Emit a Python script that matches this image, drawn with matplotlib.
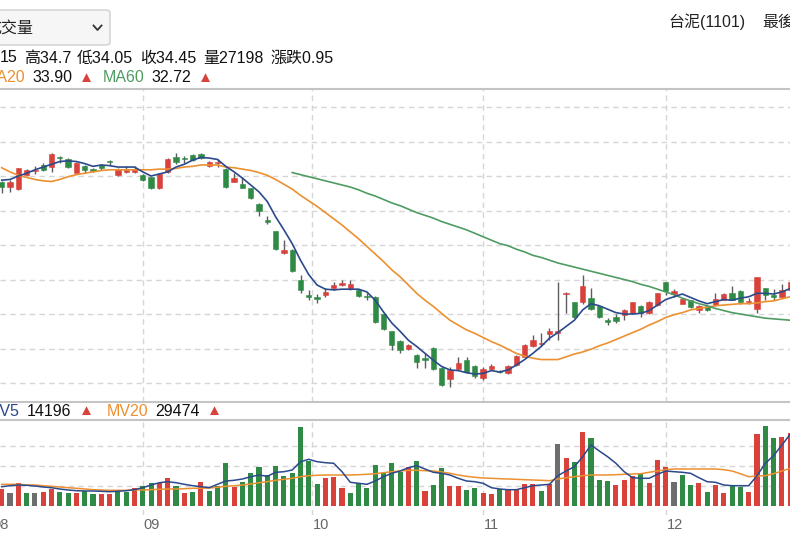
import numpy as np
import matplotlib.pyplot as plt
from matplotlib.patches import FancyBboxPatch
from matplotlib.lines import Line2D

plt.rcParams['font.family'] = ['Liberation Sans', 'Noto Sans CJK TC', 'DejaVu Sans']

# daily candles (台泥 1101)
opens = [34.41, 34.34, 34.31, 34.51, 34.57, 34.66, 34.63, 34.78, 34.75, 34.55,
         34.64, 34.60, 34.66, 34.72, 34.51, 34.56, 34.56, 34.52, 34.48, 34.33,
         34.56, 34.78, 34.76, 34.80, 34.82, 34.64, 34.69, 34.60, 34.42, 34.39,
         34.32, 34.10, 33.86, 33.70, 33.39, 33.43, 33.00, 32.78, 32.74, 32.78,
         32.88, 32.92, 32.87, 32.85, 32.76, 32.75, 32.50, 32.25, 32.11, 31.99,
         31.91, 31.86, 32.01, 31.72, 31.56, 31.71, 31.83, 31.75, 31.58, 31.70,
         31.67, 31.64, 31.76, 31.88, 32.04, 32.06, 32.21, 32.23, 32.79, 32.67,
         32.67, 32.73, 32.61, 32.42, 32.46, 32.49, 32.51, 32.61, 32.51, 32.63,
         32.96, 32.79, 32.65, 32.70, 32.56, 32.61, 32.63, 32.71, 32.80, 32.84,
         32.67, 32.57, 32.87, 32.77, 32.75, 32.85]
highs = [34.43, 34.44, 34.62, 34.60, 34.64, 34.69, 34.83, 34.79, 34.76, 34.70,
         34.66, 34.61, 34.67, 34.73, 34.62, 34.64, 34.64, 34.53, 34.49, 34.54,
         34.76, 34.83, 34.79, 34.82, 34.83, 34.72, 34.74, 34.61, 34.54, 34.48,
         34.33, 34.11, 33.92, 33.71, 33.57, 33.44, 33.07, 32.85, 32.79, 32.87,
         32.96, 32.99, 32.99, 32.86, 32.80, 32.76, 32.51, 32.26, 32.12, 32.07,
         31.92, 31.93, 32.02, 31.73, 31.73, 31.88, 31.88, 31.76, 31.73, 31.78,
         31.69, 31.76, 31.91, 32.07, 32.20, 32.23, 32.30, 32.97, 32.82, 32.68,
         33.07, 32.87, 32.62, 32.44, 32.50, 32.58, 32.68, 32.63, 32.69, 32.81,
         32.97, 32.86, 32.73, 32.71, 32.63, 32.62, 32.80, 32.80, 32.90, 32.85,
         32.73, 33.04, 32.88, 32.86, 32.94, 32.98]
lows = [34.25, 34.27, 34.30, 34.50, 34.53, 34.57, 34.56, 34.69, 34.62, 34.54,
        34.54, 34.56, 34.59, 34.66, 34.50, 34.54, 34.55, 34.43, 34.31, 34.31,
        34.55, 34.67, 34.69, 34.72, 34.75, 34.63, 34.63, 34.33, 34.41, 34.32,
        34.17, 33.92, 33.81, 33.43, 33.37, 33.11, 32.81, 32.70, 32.66, 32.75,
        32.85, 32.90, 32.85, 32.74, 32.70, 32.37, 32.27, 31.98, 31.93, 31.98,
        31.72, 31.72, 31.69, 31.45, 31.44, 31.69, 31.64, 31.58, 31.54, 31.69,
        31.64, 31.63, 31.74, 31.87, 32.02, 32.03, 32.13, 32.13, 32.51, 32.44,
        32.65, 32.56, 32.44, 32.34, 32.37, 32.41, 32.50, 32.46, 32.50, 32.61,
        32.78, 32.74, 32.64, 32.59, 32.52, 32.55, 32.62, 32.70, 32.70, 32.65,
        32.64, 32.51, 32.70, 32.70, 32.73, 32.83]
closes = [34.34, 34.41, 34.61, 34.59, 34.58, 34.59, 34.82, 34.76, 34.63, 34.69,
          34.59, 34.57, 34.62, 34.71, 34.60, 34.59, 34.60, 34.44, 34.33, 34.53,
          34.75, 34.71, 34.74, 34.73, 34.76, 34.70, 34.70, 34.34, 34.47, 34.33,
          34.18, 33.99, 33.83, 33.44, 33.43, 33.12, 32.85, 32.75, 32.72, 32.82,
          32.92, 32.95, 32.93, 32.76, 32.75, 32.39, 32.29, 32.05, 31.98, 32.05,
          31.80, 31.84, 31.70, 31.47, 31.69, 31.79, 31.66, 31.60, 31.71, 31.75,
          31.66, 31.75, 31.89, 32.05, 32.13, 32.07, 32.26, 32.26, 32.81, 32.45,
          32.90, 32.58, 32.45, 32.38, 32.40, 32.56, 32.67, 32.51, 32.68, 32.80,
          32.84, 32.84, 32.72, 32.60, 32.62, 32.56, 32.72, 32.79, 32.71, 32.67,
          32.69, 33.03, 32.78, 32.75, 32.85, 32.96]

ma5 = [34.44, 34.45, 34.50, 34.54, 34.59, 34.63, 34.67, 34.71, 34.72, 34.71,
       34.68, 34.64, 34.66, 34.65, 34.63, 34.63, 34.63, 34.56, 34.50, 34.53,
       34.56, 34.63, 34.67, 34.73, 34.77, 34.76, 34.74, 34.64, 34.56, 34.47,
       34.37, 34.27, 34.13, 33.91, 33.72, 33.52, 33.28, 33.07, 32.92, 32.86,
       32.85, 32.86, 32.86, 32.86, 32.82, 32.70, 32.53, 32.37, 32.25, 32.12,
       32.03, 31.93, 31.83, 31.74, 31.69, 31.68, 31.65, 31.63, 31.64, 31.68,
       31.66, 31.69, 31.76, 31.84, 31.93, 32.03, 32.15, 32.23, 32.32, 32.41,
       32.56, 32.65, 32.62, 32.57, 32.52, 32.50, 32.50, 32.51, 32.55, 32.63,
       32.71, 32.75, 32.79, 32.74, 32.69, 32.65, 32.68, 32.71, 32.70, 32.73,
       32.75, 32.80, 32.80, 32.79, 32.82, 32.87]
ma20 = [34.62, 34.56, 34.51, 34.48, 34.45, 34.43, 34.42, 34.45, 34.49, 34.52,
        34.54, 34.56, 34.58, 34.59, 34.59, 34.59, 34.59, 34.59, 34.59, 34.60,
        34.60, 34.61, 34.63, 34.64, 34.66, 34.66, 34.66, 34.63, 34.62, 34.60,
        34.58, 34.55, 34.51, 34.45, 34.38, 34.31, 34.22, 34.14, 34.06, 33.97,
        33.88, 33.79, 33.69, 33.59, 33.48, 33.37, 33.26, 33.14, 33.04, 32.92,
        32.80, 32.70, 32.61, 32.51, 32.41, 32.34, 32.27, 32.22, 32.16, 32.10,
        32.05, 31.99, 31.93, 31.89, 31.86, 31.84, 31.84, 31.84, 31.88, 31.92,
        31.95, 31.99, 32.04, 32.08, 32.13, 32.18, 32.23, 32.28, 32.34, 32.39,
        32.45, 32.49, 32.52, 32.56, 32.58, 32.60, 32.62, 32.63, 32.64, 32.65,
        32.65, 32.66, 32.68, 32.69, 32.72, 32.75]
ma60 = [None] * 35 + [
        34.55, 34.52, 34.49, 34.46, 34.43, 34.40, 34.37, 34.34, 34.30, 34.25,
        34.21, 34.16, 34.11, 34.07, 34.02, 33.97, 33.93, 33.89, 33.84, 33.80,
        33.76, 33.72, 33.67, 33.62, 33.57, 33.52, 33.49, 33.44, 33.40, 33.35,
        33.32, 33.28, 33.24, 33.21, 33.18, 33.15, 33.12, 33.09, 33.06, 33.03,
        33.00, 32.97, 32.93, 32.90, 32.86, 32.82, 32.78, 32.73, 32.69, 32.65,
        32.62, 32.58, 32.55, 32.52, 32.50, 32.48, 32.46, 32.44, 32.43, 32.42,
        32.41]

# volume (張) and direction vs previous close: 1 up, -1 down, 0 flat
volumes = [16500, 12500, 22200, 12200, 12200, 13800, 16500, 13800, 12200, 12200,
           14500, 11300, 11300, 11300, 14500, 13500, 18000, 19500, 23000, 22200,
           27200, 19800, 12200, 13800, 23200, 14800, 19800, 42200, 18800, 23200,
           32200, 38500, 30500, 39500, 29500, 32200, 78800, 44300, 21200, 27200,
           28500, 17200, 12200, 23000, 17200, 40500, 32500, 42200, 33800, 38300,
           44200, 15000, 20800, 37200, 19800, 19800, 15800, 18000, 12500, 11300,
           16200, 15800, 15800, 22000, 22000, 14700, 21300, 61800, 47200, 43500,
           73200, 68000, 25800, 24700, 20800, 25800, 29500, 31300, 22200, 45500,
           38500, 23800, 30500, 20500, 22200, 13800, 20500, 12200, 20500, 18800,
           13800, 72000, 79200, 67200, 68500, 73000]
vol_dir = [1, 0, 1, -1, 0, 1, 1, -1, -1, 1, -1, -1, 1, 1, -1, -1, 1, -1, -1, 1,
           1, -1, 1, -1, 1, -1, -1, -1, 1, -1, -1, -1, -1, -1, -1, -1, -1, -1, -1, 1,
           1, 1, -1, -1, -1, -1, -1, -1, -1, 1, -1, 1, -1, -1, 1, 1, -1, -1, 1, 1,
           -1, 1, 1, 1, 1, -1, 1, 0, 1, -1, 1, -1, -1, -1, 1, 1, 1, -1, 1, 1,
           1, 0, -1, -1, 1, -1, 1, 1, -1, -1, 1, 1, -1, -1, 1, 1]
mv5 = [18800, 19800, 20500, 20200, 19500, 18500, 17800, 16500, 15500, 14800,
       14500, 14500, 14200, 13800, 14200, 14800, 15800, 17800, 20500, 22800,
       23800, 22800, 21200, 19800, 18800, 17800, 21200, 24500, 25200, 26500,
       28800, 30500, 29200, 33200, 33800, 35500, 43800, 46200, 43800, 42800,
       42200, 33800, 23200, 22200, 21200, 24500, 28800, 32200, 34500, 37800,
       39800, 36500, 33200, 32200, 30500, 27200, 24500, 23800, 22200, 17800,
       16500, 15800, 15800, 17800, 19800, 20500, 21200, 29800, 34500, 38800,
       48800, 60500, 54500, 48800, 42200, 33800, 27800, 27200, 27200, 31200,
       34500, 33800, 33200, 32200, 27800, 23800, 23200, 20500, 19800, 19800,
       19800, 29800, 42200, 49800, 60500, 71200]
mv20 = [21200, 21200, 21200, 20500, 20500, 19800, 19200, 18500, 17800, 17200,
        16500, 15800, 15500, 15200, 15200, 15200, 15500, 15500, 15800, 16200,
        16500, 16500, 16800, 17200, 17200, 17500, 18200, 19200, 19800, 20500,
        21500, 22800, 23800, 25200, 26200, 27200, 28800, 29800, 30200, 30500,
        30500, 30500, 30500, 30800, 31200, 31800, 32800, 33800, 34500, 35200,
        35200, 34800, 34500, 33500, 32200, 30500, 29200, 28200, 27500, 27200,
        26800, 26500, 26200, 25800, 25500, 25200, 24800, 26500, 27800, 28800,
        29800, 30500, 30500, 30500, 30800, 31200, 31500, 31800, 33200, 34500,
        35800, 36500, 36500, 36500, 36500, 36500, 36500, 35800, 34500, 31800,
        28800, 29500, 29800, 31800, 34500, 37200]

# month boundaries (candle index) and labels
month_pos = [-1.2, 17, 37.4, 58, 80]
month_labels = ['08', '09', '10', '11', '12']

RED = '#d9413b'
GREEN = '#2f8a45'
GRAY = '#6e6e6e'
C_MA5 = '#2b4a8b'
C_MA20 = '#ec9030'
C_MA60 = '#4f9c63'
GRID = '#d6d6d6'
EDGE = '#c4c4c4'

opens = np.array(opens); closes = np.array(closes)
highs = np.array(highs); lows = np.array(lows)
ma60 = np.array([np.nan if v is None else v for v in ma60])
x = np.arange(len(closes))

W, H = 790, 550
fig = plt.figure(figsize=(W / 100, H / 100), dpi=100)


def rect(x0, y0, x1, y1):
    return [x0 / W, 1 - y1 / H, (x1 - x0) / W, (y1 - y0) / H]


def ftext(px, py, s, **kw):
    fig.text(px / W, 1 - py / H, s, va='center', **kw)


ax = fig.add_axes(rect(0, 89, 790, 402))
axv = fig.add_axes(rect(0, 420, 790, 515))

for a in (ax, axv):
    a.set_xlim(-0.205, 94.976)
    a.tick_params(left=False, labelleft=False, bottom=False, labelbottom=False)
    for s in ('left', 'right', 'bottom'):
        a.spines[s].set_visible(False)
    a.spines['top'].set_color(EDGE)
    a.spines['top'].set_linewidth(1.5)
    for m in month_pos:
        a.axvline(m, color=GRID, lw=1, ls=(0, (4, 3)), zorder=0)
ax.spines['bottom'].set_visible(True)
ax.spines['bottom'].set_color(EDGE)
ax.spines['bottom'].set_linewidth(1.5)

# price panel
ax.set_ylim(31.225, 35.761)
ax.set_yticks(np.arange(31.5, 35.51, 0.5))
ax.grid(axis='y', color=GRID, lw=1, ls=(0, (4, 3)), zorder=0)
body_col = np.where(closes > opens, RED, np.where(closes < opens, GREEN, GRAY))
ax.vlines(x, lows, highs, color='#5c5c5c', lw=1, zorder=2)
ax.bar(x, np.maximum(np.abs(closes - opens), 0.014), bottom=np.minimum(opens, closes),
       width=0.64, color=body_col, edgecolor=body_col, lw=0.4, zorder=3)
ax.plot(x, ma20, color=C_MA20, lw=1.2, zorder=4)
ax.plot(x, ma60, color=C_MA60, lw=1.2, zorder=4)
ax.plot(x, ma5, color=C_MA5, lw=1.2, zorder=5)

# volume panel
axv.set_ylim(-9500, 85500)
axv.set_yticks([20000, 40000, 60000])
axv.grid(axis='y', color=GRID, lw=1, ls=(0, (4, 3)), zorder=0)
vcol = [RED if d > 0 else GREEN if d < 0 else GRAY for d in vol_dir]
axv.bar(x, volumes, width=0.62, color=vcol, zorder=2)
axv.plot(x, mv20, color=C_MA20, lw=1.1, zorder=3)
axv.plot(x, mv5, color=C_MA5, lw=1.1, zorder=4)

for m, lab in zip(month_pos, month_labels):
    axv.text(m + 0.12, -0.105, lab, transform=axv.get_xaxis_transform(),
             ha='left', va='center', fontsize=10.5, color='#666666', clip_on=False)

# header: dropdown box
box = FancyBboxPatch((-12 / W, 1 - 45 / H), 122 / W, 35 / H,
                     boxstyle='round,pad=0,rounding_size=0.005',
                     transform=fig.transFigure, facecolor='#f6f6f6',
                     edgecolor='#cfcfcf', lw=1)
fig.patches.append(box)
ftext(-14.5, 28, '成交量', fontsize=11.5, color='#222222')
fig.lines.append(Line2D([93.5 / W, 97.5 / W, 101.5 / W],
                        [1 - 25.5 / H, 1 - 30 / H, 1 - 25.5 / H],
                        transform=fig.transFigure, color='#333333', lw=1.3))

ftext(668, 22, '台泥(1101)', fontsize=11.5, color='#222222')
ftext(762, 22, '最後', fontsize=11.5, color='#222222')

# OHLC info line
info = [(0, '15'), (24, '高34.7'), (77, '低34.05'), (140, '收34.45'),
        (203, '量27198'), (270, '漲跌0.95')]
for px, s in info:
    ftext(px, 58, s, fontsize=11.5, color='#111111')

# MA legend line
ftext(25, 78, 'MA20', fontsize=11.5, color=C_MA20, ha='right')
ftext(32, 78, '33.90', fontsize=11.5, color='#111111')
ftext(79, 78, '▲', fontsize=11, color=RED)
ftext(103, 78, 'MA60', fontsize=11.5, color=C_MA60)
ftext(151, 78, '32.72', fontsize=11.5, color='#111111')
ftext(198, 78, '▲', fontsize=11, color=RED)

# volume legend strip
ftext(20, 411, 'MV5', fontsize=11.5, color=C_MA5, ha='right')
ftext(27, 411, '14196', fontsize=11.5, color='#111111')
ftext(79, 411, '▲', fontsize=11, color=RED)
ftext(107, 411, 'MV20', fontsize=11.5, color=C_MA20)
ftext(155, 411, '29474', fontsize=11.5, color='#111111')
ftext(207, 411, '▲', fontsize=11, color=RED)

fig.savefig('out.png', dpi=100, facecolor='white')
